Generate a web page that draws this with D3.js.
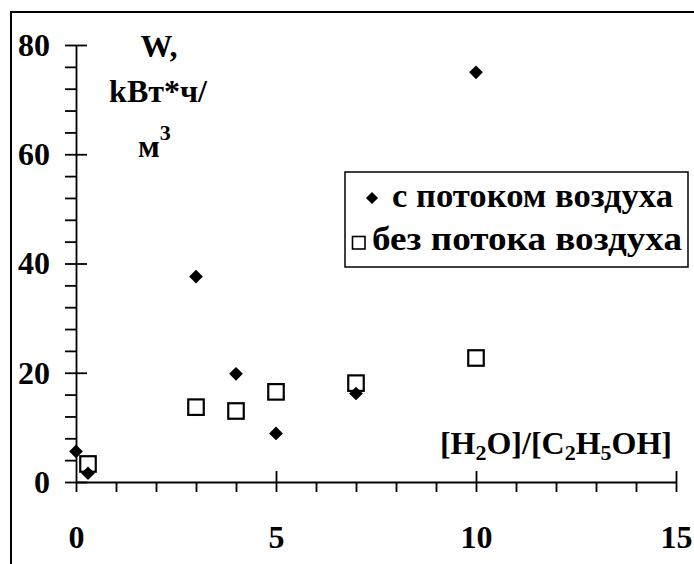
<!DOCTYPE html>
<html>
<head>
<meta charset="utf-8">
<script src="https://cdn.jsdelivr.net/npm/d3@7"></script>
<style>
  body { margin: 0; background: #fff; }
</style>
</head>
<body>
<div id="chart"></div>
<script>
// data
const ratio = [0, 0.3, 3, 4, 5, 7, 10];
const withAir = [5.6, 1.6, 37.6, 19.8, 8.9, 16.2, 75];
const ratio2 = [0.3, 3, 4, 5, 7, 10];
const noAir = [3.3, 13.7, 13, 16.5, 18.1, 22.7];
const xTicks = [0, 5, 10, 15];
const yTicks = [0, 20, 40, 60, 80];
const legendNames = ['с потоком воздуха', 'без потока воздуха'];

const w = 694;
const h = 564;
const serif = 'Liberation Serif';

const svg = d3.select('#chart')
  .append('svg')
  .attr('width', w)
  .attr('height', h)

// outer frame, cut off at right and bottom
svg.append('rect')
  .attr('x', 11).attr('y', 12)
  .attr('width', 700).attr('height', 600)
  .attr('fill', 'none')
  .attr('stroke', '#000')
  .attr('stroke-width', 2)

const xScale = d3.scaleLinear().domain([0, 15]).range([76, 676])
const yScale = d3.scaleLinear().domain([0, 80]).range([482, 45])

// y axis: minor ticks outside, major ticks cross
svg.append('g')
  .attr('transform', 'translate(76,0)')
  .call(d3.axisLeft(yScale).tickValues(d3.range(0, 81, 4)).tickSize(11).tickSizeOuter(0).tickFormat(''))
svg.append('g')
  .attr('transform', 'translate(76,0)')
  .call(d3.axisLeft(yScale).tickValues(yTicks).tickSize(-11).tickSizeOuter(0).tickFormat(''))
  .call(g => g.select('.domain').remove())
svg.append('g')
  .attr('transform', 'translate(76,0)')
  .call(d3.axisLeft(yScale).tickValues(yTicks).tickSize(0).tickPadding(26))
  .call(g => g.select('.domain').remove())
  .attr('font-size', 32)
  .attr('font-family', serif)
  .attr('font-weight', 'bold')

// x axis
svg.append('g')
  .attr('transform', 'translate(0,482)')
  .call(d3.axisBottom(xScale).tickValues(d3.range(0, 16, 1)).tickSize(10).tickSizeOuter(0).tickFormat(''))
svg.append('g')
  .attr('transform', 'translate(0,482)')
  .call(d3.axisBottom(xScale).tickValues([5, 10, 15]).tickSize(-11).tickSizeOuter(0).tickFormat(''))
  .call(g => g.select('.domain').remove())
svg.append('g')
  .attr('transform', 'translate(0,482)')
  .call(d3.axisBottom(xScale).tickValues(xTicks).tickSize(0).tickPadding(43))
  .call(g => g.select('.domain').remove())
  .attr('font-size', 32)
  .attr('font-family', serif)
  .attr('font-weight', 'bold')

svg.selectAll('.domain, .tick line')
  .attr('stroke', '#000')
  .attr('stroke-width', 1.8)

// points
const diamond = d3.symbol().type(d3.symbolDiamond2).size(120)

svg.selectAll('.sq')
  .data(ratio2)
  .enter()
  .append('rect')
  .attr('class', 'sq')
  .attr('x', d => xScale(d) - 7.75)
  .attr('y', (d, i) => yScale(noAir[i]) - 7.75)
  .attr('width', 15.5)
  .attr('height', 15.5)
  .attr('fill', '#fff')
  .attr('stroke', '#000')
  .attr('stroke-width', 2.2)

svg.selectAll('.dm')
  .data(ratio)
  .enter()
  .append('path')
  .attr('class', 'dm')
  .attr('d', diamond)
  .attr('transform', (d, i) => 'translate(' + xScale(d) + ',' + yScale(withAir[i]) + ')')
  .attr('fill', '#000')

const txt = () => svg.append('text')
  .attr('font-family', serif)
  .attr('font-weight', 'bold')
  .attr('fill', '#000')

// y title
const yt = txt().attr('font-size', 32).attr('text-anchor', 'middle')
yt.append('tspan').attr('x', 159).attr('y', 57).text('W,')
yt.append('tspan').attr('x', 158).attr('y', 102).text('kВт*ч/')
const y3 = txt().attr('font-size', 32).attr('x', 138).attr('y', 157)
y3.append('tspan').text('м')
y3.append('tspan').attr('font-size', 22).attr('dy', -17).text('3')

// x title
const xt = txt().attr('font-size', 32).attr('text-anchor', 'end').attr('x', 672).attr('y', 454)
xt.append('tspan').text('[H')
xt.append('tspan').attr('font-size', 22).attr('dy', 6).text('2')
xt.append('tspan').attr('dy', -6).text('O]/[C')
xt.append('tspan').attr('font-size', 22).attr('dy', 6).text('2')
xt.append('tspan').attr('dy', -6).text('H')
xt.append('tspan').attr('font-size', 22).attr('dy', 6).text('5')
xt.append('tspan').attr('dy', -6).text('OH]')

// legend
svg.append('rect')
  .attr('x', 345).attr('y', 172)
  .attr('width', 343).attr('height', 95)
  .attr('fill', '#fff')
  .attr('stroke', '#000')
  .attr('stroke-width', 1.5)
svg.append('path')
  .attr('d', d3.symbol().type(d3.symbolDiamond2).size(95))
  .attr('transform', 'translate(372,198)')
svg.append('rect')
  .attr('x', 352.5).attr('y', 236.5)
  .attr('width', 12.5).attr('height', 12.5)
  .attr('fill', 'none')
  .attr('stroke', '#000')
  .attr('stroke-width', 1.6)
txt().attr('x', 392).attr('y', 207).attr('font-size', 34)
  .attr('textLength', 281).attr('lengthAdjust', 'spacingAndGlyphs').text(legendNames[0])
txt().attr('x', 372).attr('y', 250).attr('font-size', 34)
  .attr('textLength', 310).attr('lengthAdjust', 'spacingAndGlyphs').text(legendNames[1])
</script>
</body>
</html>
